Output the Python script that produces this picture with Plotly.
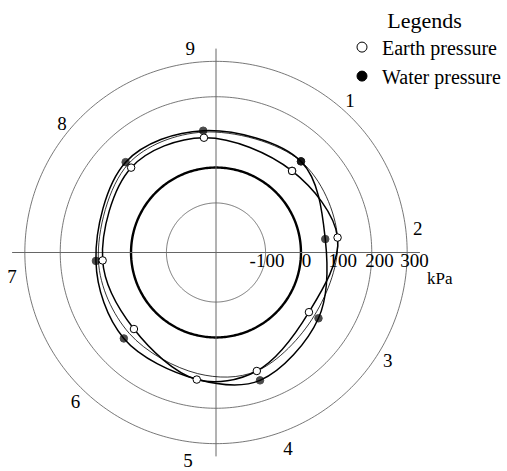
import plotly.graph_objects as go
import numpy as np

# ---- data ----
positions = ["1", "2", "3", "4", "5", "6", "7", "8", "9"]
theta_pts = [43, 83, 122.7, 161, 188.6, 227, 266, 315, 354]
earth = [75, 106, 72, 114, 123, 77, 81, 99, 86]
water = [112, 71, 104, 142, 122, 116, 100, 121, 106]
thin_curve = [112, 106, 90, 114, 106, 95, 93, 112, 102]
water_marker_shown = [1, 1, 1, 1, 0, 1, 1, 1, 1]

label_theta = [41.8, 83.8, 122.6, 160, 187.6, 223, 262.7, 309.5, 352.7]
label_r = [328, 333, 336, 355, 359, 342, 341, 324, 335]

grid_thin = [-100, 200, 300]
grid_zero = 0
tick_vals = [-100, 0, 100, 200, 300]
tick_text = ["-100", "0", "100", "200", "300"]
tick_offsets = [4, 16, 18, 22, 21]
axis_end = 336
r_min, r_max = -240, 360

SERIF = "Liberation Serif"

def closed(a):
    return list(a) + [a[0]]

fig = go.Figure()
circ_t = np.linspace(0, 360, 361)

for g in grid_thin:
    fig.add_trace(go.Scatterpolar(r=[g] * len(circ_t), theta=circ_t, mode="lines",
                                  line=dict(color="#555555", width=0.8),
                                  showlegend=False, hoverinfo="skip"))
fig.add_trace(go.Scatterpolar(r=[grid_zero] * len(circ_t), theta=circ_t, mode="lines",
                              line=dict(color="black", width=2.4),
                              showlegend=False, hoverinfo="skip"))
for ang in [0, 90, 180, 270]:
    fig.add_trace(go.Scatterpolar(r=[r_min, axis_end], theta=[ang, ang], mode="lines",
                                  line=dict(color="#666666", width=1),
                                  showlegend=False, hoverinfo="skip"))

# tick labels along east axis
fig.add_trace(go.Scatterpolar(r=[v + o for v, o in zip(tick_vals, tick_offsets)],
                              theta=[90] * len(tick_vals),
                              mode="text", text=tick_text, textposition="bottom center",
                              textfont=dict(family=SERIF, size=19, color="black"),
                              showlegend=False, hoverinfo="skip", cliponaxis=False))

# curves
fig.add_trace(go.Scatterpolar(r=closed(thin_curve), theta=closed(theta_pts), mode="lines",
                              line=dict(color="black", width=0.8, shape="spline"),
                              showlegend=False, hoverinfo="skip"))
fig.add_trace(go.Scatterpolar(r=closed(water), theta=closed(theta_pts), mode="lines+markers",
                              line=dict(color="black", width=1.5, shape="spline"),
                              marker=dict(symbol="circle", color="black",
                                          size=[7.5 * s for s in closed(water_marker_shown)],
                                          line=dict(color="black", width=1)),
                              showlegend=False))
fig.add_trace(go.Scatterpolar(r=closed(earth), theta=closed(theta_pts), mode="lines+markers",
                              line=dict(color="black", width=1.5, shape="spline"),
                              marker=dict(symbol="circle", color="white", size=7.5,
                                          line=dict(color="black", width=1)),
                              showlegend=False))

# position labels
fig.add_trace(go.Scatterpolar(r=label_r, theta=label_theta, mode="text", text=positions,
                              textposition="middle center",
                              textfont=dict(family=SERIF, size=19, color="black"),
                              showlegend=False, hoverinfo="skip", cliponaxis=False))

# legend entries
fig.add_trace(go.Scatterpolar(r=[None], theta=[None], mode="markers", name="Earth pressure",
                              marker=dict(symbol="circle", color="white", size=10,
                                          line=dict(color="black", width=1))))
fig.add_trace(go.Scatterpolar(r=[None], theta=[None], mode="markers", name="Water pressure",
                              marker=dict(symbol="circle", color="black", size=10,
                                          line=dict(color="black", width=1))))

W, H = 507, 471
cx, cy = 216, 252.5
rad = (r_max - r_min) * 0.354
fig.update_layout(
    width=W, height=H,
    margin=dict(l=0, r=0, t=0, b=0, autoexpand=False),
    paper_bgcolor="white",
    polar=dict(
        domain=dict(x=[max(0, (cx - rad) / W), (cx + rad) / W],
                    y=[1 - (cy + rad) / H, 1 - (cy - rad) / H]),
        bgcolor="white",
        radialaxis=dict(range=[r_min, r_max], visible=False),
        angularaxis=dict(visible=False, direction="clockwise", rotation=90),
    ),
    showlegend=True,
    legend=dict(x=342 / W, y=1 + 1 / H, xanchor="left", yanchor="top",
                bgcolor="rgba(0,0,0,0)",
                font=dict(family=SERIF, size=20, color="black"),
                title=dict(text="Legends", side="top center",
                           font=dict(family=SERIF, size=22, color="black")),
                itemwidth=30),
    annotations=[dict(text="kPa", x=440 / W, y=1 - 278 / H, xref="paper", yref="paper",
                      xanchor="center", yanchor="middle",
                      showarrow=False, font=dict(family=SERIF, size=17, color="black"))],
)

fig.write_html("out.html", config={"displayModeBar": False},
               post_script="document.body.style.margin='0';document.body.style.overflow='hidden';")
